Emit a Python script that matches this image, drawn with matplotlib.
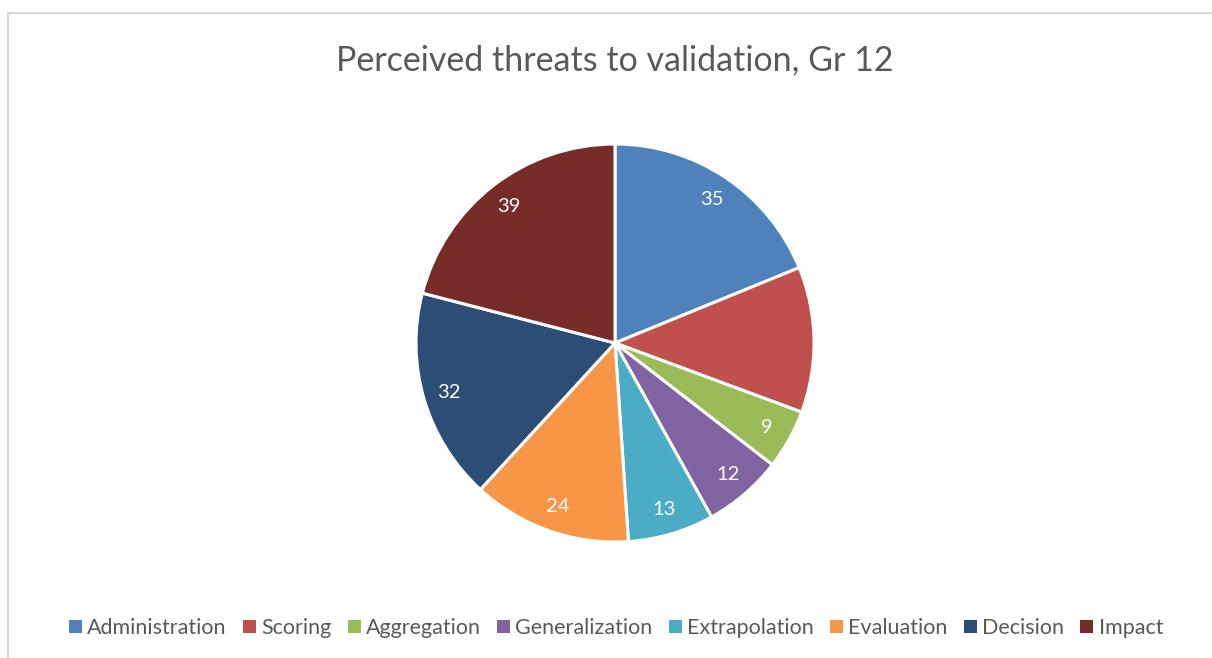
import matplotlib
matplotlib.use("Agg")
import matplotlib.pyplot as plt
from matplotlib.patches import Rectangle
import numpy as np

categories = ["Administration", "Scoring", "Aggregation", "Generalization",
              "Extrapolation", "Evaluation", "Decision", "Impact"]
values = [35, 22, 9, 12, 13, 24, 32, 39]
shown_labels = ["35", "", "9", "12", "13", "24", "32", "39"]
colors = ["#4F81BD", "#C0504D", "#9BBB59", "#8064A2",
          "#4BACC6", "#F79646", "#2C4D75", "#772C2A"]

plt.rcParams['font.family'] = ['Lato', 'DejaVu Sans']

W, H = 1212, 658
fig = plt.figure(figsize=(W/100, H/100), dpi=100)
fig.patch.set_facecolor("white")

# chart border
fig.add_artist(Rectangle((8/W, -0.1), (W-8)/W + 0.1, 1.1 - 13.5/H, transform=fig.transFigure,
                         fill=False, edgecolor="#D9D9D9", linewidth=1.5))

cx, cy, r = 615, 343, 199
ax = fig.add_axes([(cx-r)/W, (H-cy-r)/H, 2*r/W, 2*r/H])
wedges, _ = ax.pie(values, colors=colors, startangle=90, counterclock=False,
                   radius=1, wedgeprops=dict(edgecolor="white", linewidth=2.2))
ax.set_xlim(-1.0, 1.0)
ax.set_ylim(-1.0, 1.0)
ax.set_aspect("equal")
ax.axis("off")

for w, lab in zip(wedges, shown_labels):
    if not lab:
        continue
    ang = np.deg2rad((w.theta1 + w.theta2) / 2)
    ax.text(0.87*np.cos(ang), 0.87*np.sin(ang), lab, color="white",
            ha="center", va="center", fontsize=14.5)

fig.text(615/W, 1 - 60/H, "Perceived threats to validation, Gr 12",
         ha="center", va="center", fontsize=24.5, color="#595959")

handles = [Rectangle((0, 0), 1, 1, facecolor=c) for c in colors]
leg = fig.legend(handles, categories, loc="center", bbox_to_anchor=(616/W, 1 - 628/H),
                 ncol=8, frameon=False, fontsize=15.5, handlelength=0.6, handleheight=0.6,
                 handletextpad=0.25, columnspacing=0.75)
for t in leg.get_texts():
    t.set_color("#595959")

fig.savefig("out.png", dpi=100, facecolor="white")
